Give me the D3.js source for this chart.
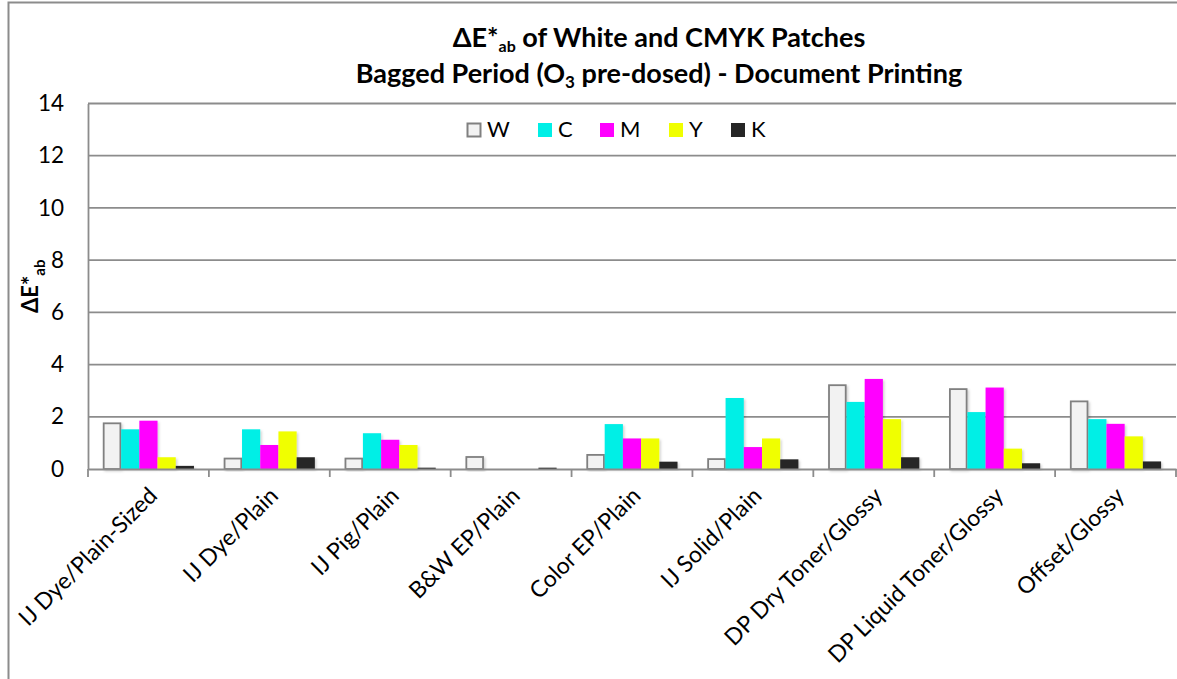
<!DOCTYPE html>
<html><head><meta charset="utf-8">
<script src="https://cdn.jsdelivr.net/npm/d3@7"></script>
<style>
html,body{margin:0;padding:0;background:#fff;}
svg{display:block;font-family:Lato, "Open Sans", sans-serif;}
</style></head>
<body><svg id="chart" width="1177" height="679"></svg>
<script>
const categories = ["IJ Dye/Plain-Sized","IJ Dye/Plain","IJ Pig/Plain","B&W EP/Plain","Color EP/Plain","IJ Solid/Plain","DP Dry Toner/Glossy","DP Liquid Toner/Glossy","Offset/Glossy"];
const seriesNames = ["W","C","M","Y","K"];
const valuesW = [1.75, 0.40, 0.40, 0.46, 0.54, 0.38, 3.21, 3.06, 2.59];
const valuesC = [1.52, 1.52, 1.37, 0, 1.72, 2.72, 2.57, 2.18, 1.91];
const valuesM = [1.85, 0.92, 1.12, 0, 1.17, 0.84, 3.45, 3.12, 1.73];
const valuesY = [0.45, 1.44, 0.92, 0, 1.17, 1.17, 1.91, 0.78, 1.25];
const valuesK = [0.12, 0.45, 0.05, 0.05, 0.28, 0.37, 0.45, 0.22, 0.29];
const yTicks = [0, 2, 4, 6, 8, 10, 12, 14];

const seriesValues = {W: valuesW, C: valuesC, M: valuesM, Y: valuesY, K: valuesK};
const fills = {W:"#f2f2f2", C:"#00efe6", M:"#ff00ff", Y:"#f0ff00", K:"#262626"};
const strokes = {W:"#808080", C:"none", M:"none", Y:"none", K:"none"};

const svg = d3.select("#chart");
const L = 88, R = 1176, T = 103.5, B = 469;
const grid = "#8c8c8c";

// drop shadow
const defs = svg.append("defs");
const f = defs.append("filter").attr("id","sh").attr("x","-20%").attr("y","-20%").attr("width","160%").attr("height","140%");
f.append("feDropShadow").attr("dx",1.5).attr("dy",1.5).attr("stdDeviation",1.2).attr("flood-color","#000").attr("flood-opacity",0.18);

// outer frame
svg.append("path").attr("d",`M8.5,679 V2.5 H1177`).attr("fill","none").attr("stroke","#8c8c8c").attr("stroke-width",2);

const x0 = d3.scaleBand().domain(categories).range([L, R]).padding(0);
const x1 = d3.scaleBand().domain(seriesNames).range([0, x0.bandwidth()]).paddingInner(0).paddingOuter(0.82);
const y = d3.scaleLinear().domain([0, 14]).range([B, T]);

// gridlines
svg.append("g").selectAll("line").data(yTicks.filter(d=>d>0)).join("line")
  .attr("x1", L).attr("x2", R).attr("y1", d=>y(d)).attr("y2", d=>y(d))
  .attr("stroke", grid).attr("stroke-width", 1.8);

// y axis
const yAxis = svg.append("g").attr("transform",`translate(${L},0)`)
  .call(d3.axisLeft(y).tickValues(yTicks).tickSize(0).tickPadding(24));
yAxis.select(".domain").attr("stroke", grid).attr("stroke-width", 1.8);
yAxis.selectAll("text").attr("font-size", 22.5).attr("fill","#000").attr("font-family","Lato");

// bars
const g = svg.append("g");
categories.forEach((c, i) => {
  seriesNames.forEach(s => {
    const v = seriesValues[s][i];
    if (v <= 0) return;
    g.append("rect")
      .attr("x", x0(c) + x1(s) + (s==="W"?0.75:0))
      .attr("width", x1.bandwidth() - (s==="W"?1.5:0))
      .attr("y", y(v))
      .attr("height", y(0) - y(v))
      .attr("fill", fills[s])
      .attr("stroke", strokes[s])
      .attr("stroke-width", 1.8)
      .attr("filter","url(#sh)");
  });
});

// x axis
const xAxis = svg.append("g").attr("transform",`translate(0,${B})`)
  .call(d3.axisBottom(x0).tickSize(0).tickFormat(""));
xAxis.select(".domain").attr("stroke", grid).attr("stroke-width", 1.8);
svg.append("g").selectAll("line").data(d3.range(categories.length+1)).join("line")
  .attr("x1", i => L + i*x0.step()).attr("x2", i => L + i*x0.step())
  .attr("y1", B).attr("y2", B+8).attr("stroke", grid).attr("stroke-width", 1.8);

// x labels
svg.append("g").selectAll("text").data(categories).join("text")
  .attr("transform", d => `translate(${x0(d)+x0.bandwidth()/2+6},${B+24}) rotate(-45)`)
  .attr("text-anchor","end").attr("dominant-baseline","middle")
  .attr("font-size", 23).attr("fill","#000")
  .text(d=>d);

// titles
const title = svg.append("text").attr("text-anchor","middle").attr("font-weight","bold").attr("font-size",27).attr("fill","#000");
const t1 = title.append("tspan").attr("x",659).attr("y",47);
t1.append("tspan").text("ΔE*");
t1.append("tspan").attr("font-size",16).attr("dy",5).text("ab");
t1.append("tspan").attr("dy",-5).text(" of White and CMYK Patches");
const t2 = svg.append("text").attr("text-anchor","middle").attr("font-weight","bold").attr("font-size",27).attr("fill","#000").attr("x",659).attr("y",83);
t2.append("tspan").text("Bagged Period (O");
t2.append("tspan").attr("font-size",17).attr("dy",5).text("3");
t2.append("tspan").attr("dy",-5).text(" pre-dosed) - Document Printing");

// y axis title
const yt = svg.append("text").attr("transform",`translate(38,${(T+B)/2}) rotate(-90)`)
  .attr("text-anchor","middle").attr("font-weight","bold").attr("font-size",22).attr("fill","#000");
yt.append("tspan").text("ΔE*");
yt.append("tspan").attr("font-size",15).attr("dy",7).text("ab");

// legend
const legX = [467, 538, 600, 669, 731];
const leg = svg.append("g");
seriesNames.forEach((s, i) => {
  leg.append("rect").attr("x", legX[i]).attr("y", 123).attr("width", s==="W"?13:14).attr("height", s==="W"?13:14)
    .attr("transform", s==="W" ? "translate(0.5,0.5)" : null)
    .attr("fill", fills[s]).attr("stroke", s==="W"?"#808080":"none").attr("stroke-width", 2);
  leg.append("text").attr("x", legX[i]+20).attr("y", 131).attr("dominant-baseline","middle")
    .attr("font-size", 22).attr("fill","#000").text(s);
});
</script></body></html>
